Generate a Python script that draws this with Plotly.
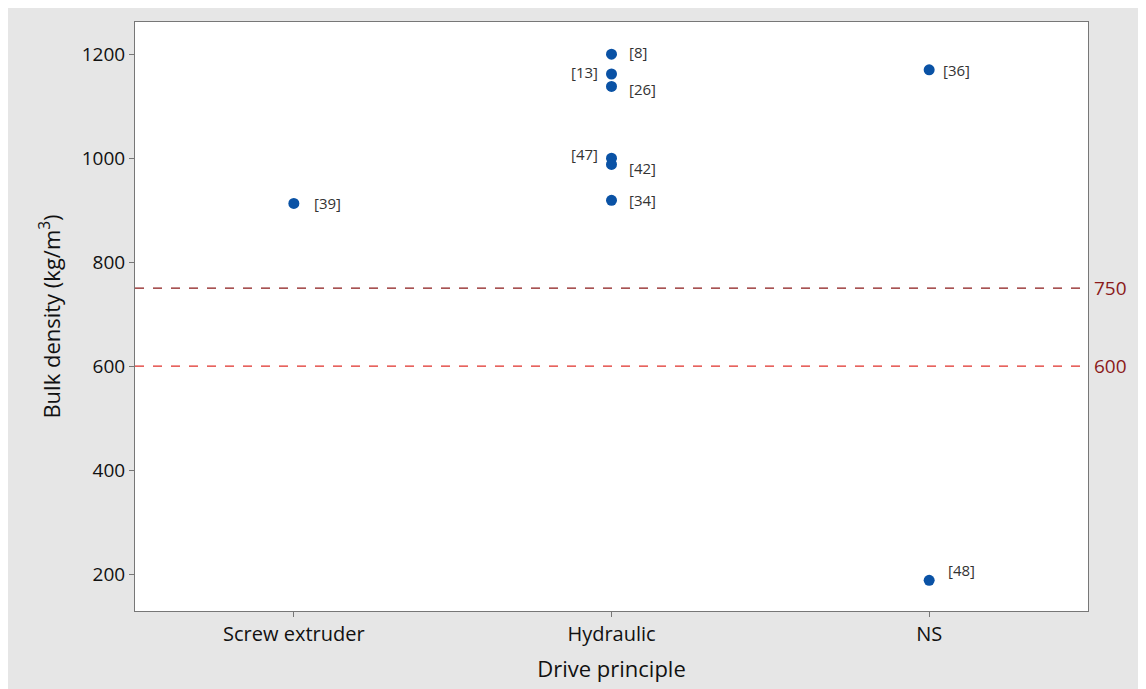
import plotly.graph_objects as go

categories = ["Screw extruder", "Hydraulic", "NS"]
# points: (category, bulk density, reference label)
point_cat = ["Screw extruder", "Hydraulic", "Hydraulic", "Hydraulic", "Hydraulic",
             "Hydraulic", "Hydraulic", "NS", "NS"]
point_val = [913, 1200, 1162, 1138, 1000, 988, 919, 1170, 188]
point_ref = ["[39]", "[8]", "[13]", "[26]", "[47]", "[42]", "[34]", "[36]", "[48]"]
# label offsets in pixels (dx, dy), dy positive = up
label_dx = [18, 15, -12, 15, -12, 15, 15, 12, 17]
label_dy = [0, 2, 2, -3, 4, -4, 0, 0, 10]
ref_lines = [750, 600]
ref_colors = ["#8b1a1a", "#e0302a"]

fig = go.Figure()
fig.add_trace(go.Scatter(
    x=point_cat, y=point_val, mode="markers",
    marker=dict(color="#0a52a5", size=11), showlegend=False))

for c, v, t, dx, dy in zip(point_cat, point_val, point_ref, label_dx, label_dy):
    fig.add_annotation(x=c, y=v, text=t, showarrow=False,
                       xanchor="left" if dx > 0 else "right", xshift=dx, yshift=dy,
                       font=dict(family="Open Sans", size=15, color="#333"))

for v, c in zip(ref_lines, ref_colors):
    fig.add_hline(y=v, line=dict(color=c, dash="dash", width=1.2))
    fig.add_annotation(x=1, xref="paper", y=v, yref="y", text=str(v), showarrow=False,
                       xanchor="left", xshift=4, font=dict(family="Open Sans", size=19, color="#8b1a1a"))

fig.update_xaxes(categoryorder="array", categoryarray=categories, range=[-0.5, 2.5],
                 showgrid=False, showline=True, linecolor="#777", mirror=True,
                 ticks="outside", ticklen=5, tickcolor="#777",
                 tickfont=dict(family="Open Sans", size=20, color="#111"),
                 title=dict(text="Drive principle", font=dict(family="Open Sans", size=22, color="#111")))
fig.update_yaxes(range=[129, 1262], tickvals=[200, 400, 600, 800, 1000, 1200],
                 showgrid=False, zeroline=False, showline=True, linecolor="#777", mirror=True,
                 ticks="outside", ticklen=5, tickcolor="#777",
                 tickfont=dict(family="Open Sans", size=19, color="#111"),
                 title=dict(text="Bulk density (kg/m<sup>3</sup>)", font=dict(family="Open Sans", size=22, color="#111")))
fig.update_layout(width=1146, height=689, paper_bgcolor="#e6e6e6", plot_bgcolor="white",
                  margin=dict(l=127, r=66, t=14, b=86))
fig.write_html("out.html")
